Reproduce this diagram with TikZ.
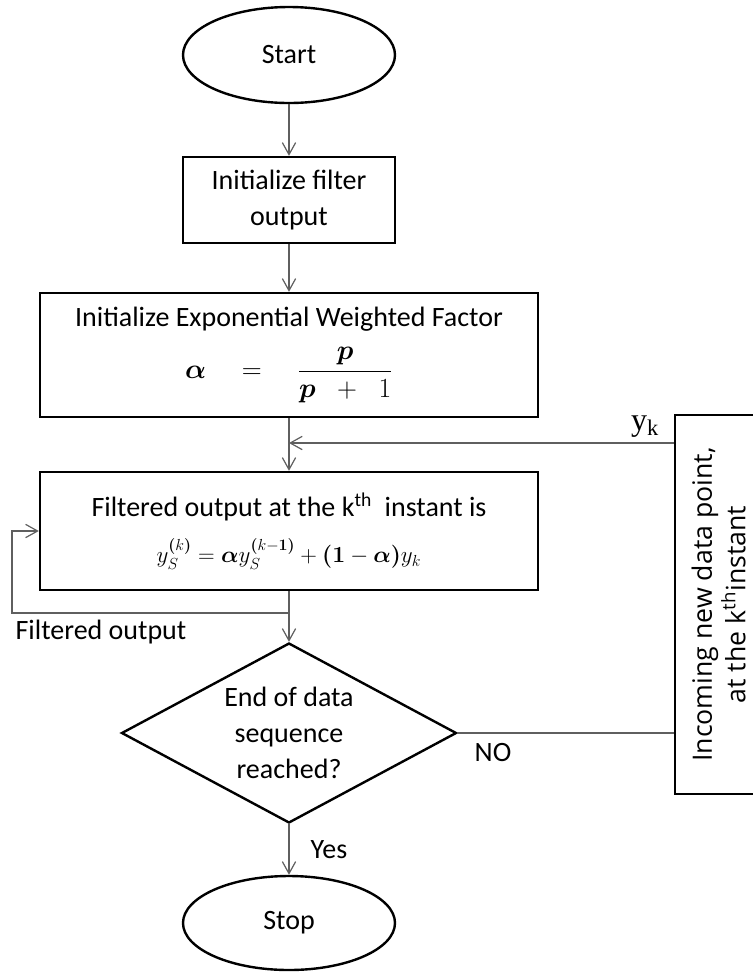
\documentclass[tikz,border=0pt]{standalone}
\usepackage{amsmath}
\usepackage{bm}
\usepackage{graphicx}
\usepackage{fontspec}
\setmainfont{Carlito}
\newfontfamily\inboxfont{Open Sans}
\newfontfamily\serifyk{Liberation Serif}
\usepackage{tikz}
\usetikzlibrary{
	arrows.meta,
	calc,
	shapes.geometric
}
\definecolor{LineGray}{RGB}{95, 95, 95}

\begin{document}
\begin{tikzpicture}[x=0.75pt, y=-0.75pt, font=\fontsize{21}{27}\selectfont,
		box/.style={draw, line width=1.8pt, rectangle, align=center, inner sep=0pt},
		term/.style={draw, line width=1.8pt, ellipse, inner sep=0pt, minimum width=159pt},
		conn/.style={draw=LineGray, line width=0.9pt},
		arr/.style={conn, -{Straight Barb[length=9pt, width=10pt]}},
		lbl/.style={inner sep=0pt}]
		\useasboundingbox (0,0) rectangle (753,972);
		\node[term, minimum height=72pt] (start) at (289,55) {Start};
		\node[box, minimum width=159pt, minimum height=64.5pt] (init) at (289,200) {Initialize filter\\output};
		\node[box, minimum width=373.5pt, minimum height=93pt] (weight) at (289,355)
			{Initialize Exponential Weighted Factor\\[12pt]
			$\bm{\alpha} \quad = \quad \dfrac{\bm{p}}{\bm{p}\;\; + \;\;1}$};
		\node[box, minimum width=373.5pt, minimum height=88.5pt] (filt) at (289,531)
			{Filtered output at the k\textsuperscript{th}\ \ instant is\\[8pt]
			{\fontsize{17.28}{20}\selectfont $y_S^{\bm{(}k\bm{)}} = \bm{\alpha} y_S^{\bm{(}k-\bm{1)}} + \bm{(1} - \bm{\alpha)} y_k$}};
		\node[draw, line width=1.8pt, diamond, aspect=1.86, inner sep=0pt, align=center,
			minimum width=251.25pt, minimum height=135pt] (decide) at (289,733)
			{End of data\\sequence\\reached?};
		\node[term, minimum height=70.5pt] (stop) at (289,923) {Stop};
		\node[box, minimum width=71.25pt, minimum height=284.25pt] (inbox) at (722.5,604.5)
			{\rotatebox{90}{\inboxfont\fontsize{20}{23}\selectfont
			\begin{tabular}{@{}c@{}}Incoming new data point,\\ at the k\textsuperscript{th}instant\end{tabular}}};
		\coordinate (join) at (289,443);
		\coordinate (fb) at (289,613);
		\coordinate (loop) at (12,531);
		\draw[arr] (start) -- (init);
		\draw[arr] (init) -- (weight);
		\draw[arr] (weight) -- (filt);
		\draw[arr] (inbox.west |- join) -- (join);
		\draw[arr] (filt) -- (decide);
		\draw[arr] (fb) -| (loop) -- (filt.west);
		\draw[conn] (decide.east) -- (inbox.west |- decide.east);
		\draw[arr] (decide) -- (stop);
		\node[lbl] (yklbl) at (645,427) {\serifyk\fontsize{24}{26}\selectfont y\textsubscript{k}};
		\foreach \name/\x/\y/\txt in {nolbl/493/752/NO, yeslbl/329/850/Yes, fblbl/101/632/Filtered output}
		\node[lbl] (\name) at (\x,\y) {\txt};
	\end{tikzpicture}
\end{document}
